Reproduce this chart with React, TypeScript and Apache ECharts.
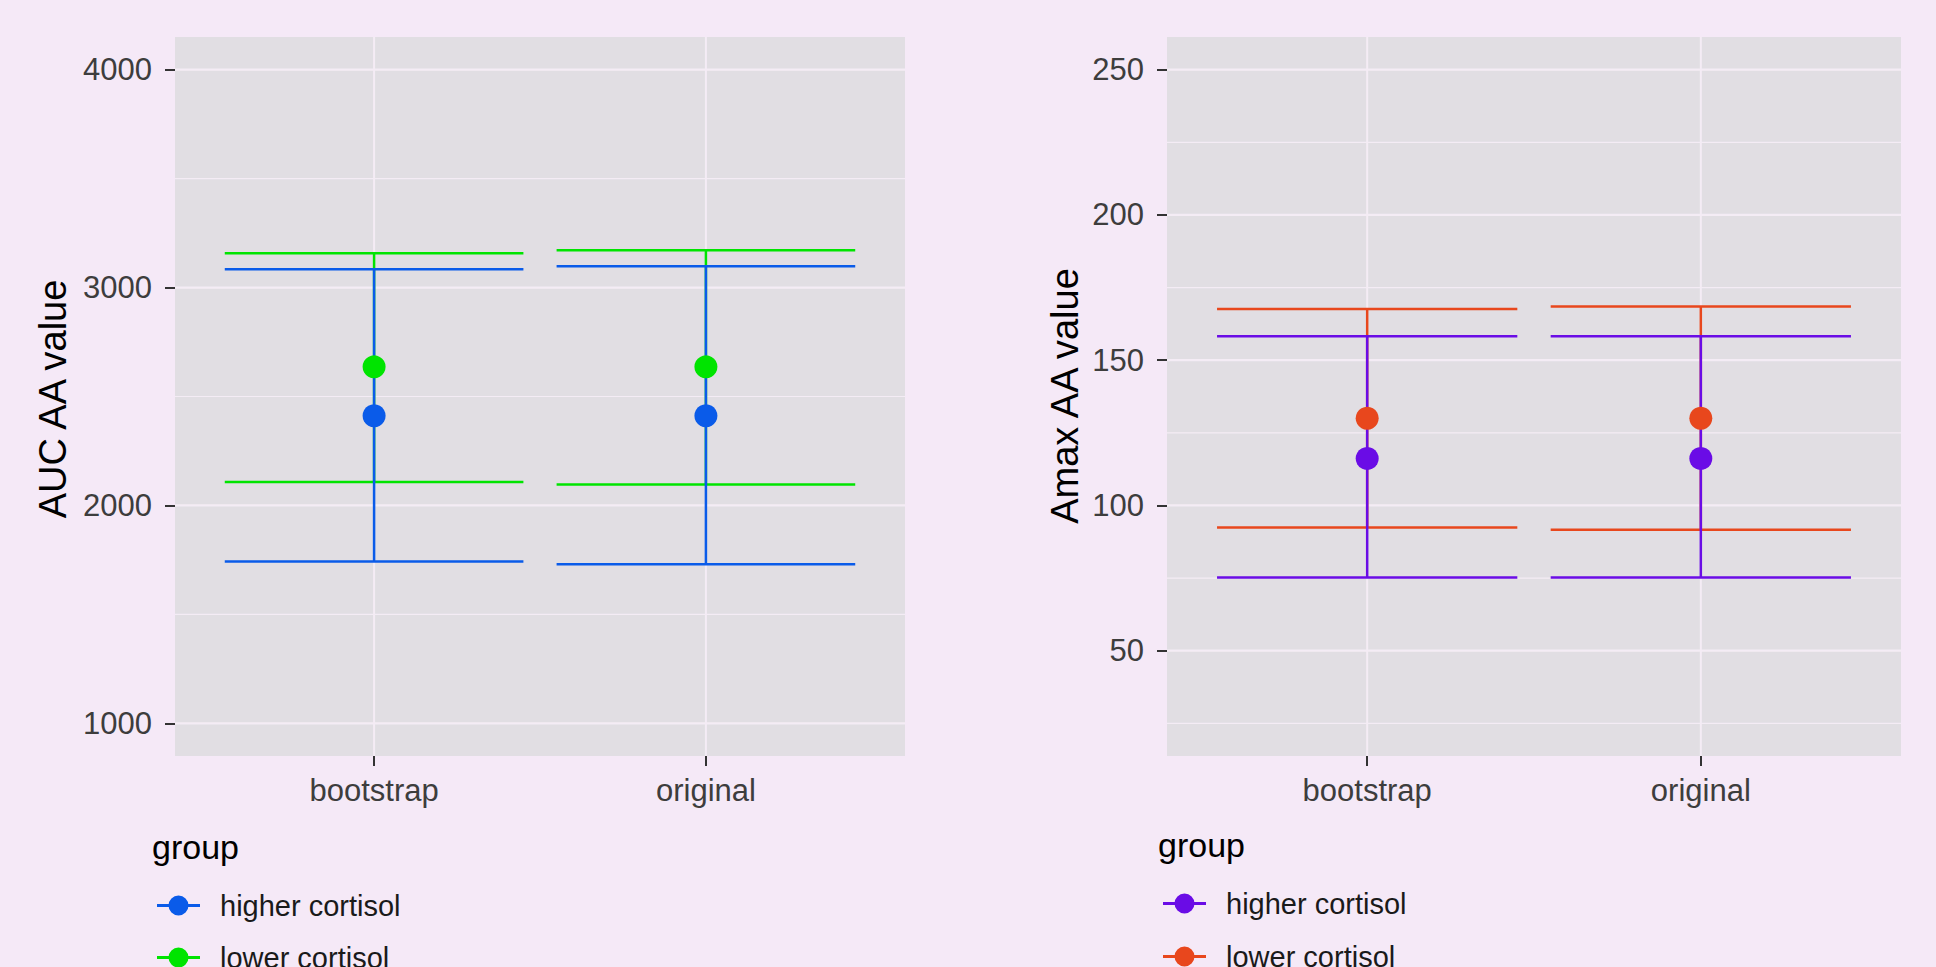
import React, { useEffect, useRef } from "react";
import * as echarts from "echarts";

// ---------- data ----------
const categories = ["bootstrap", "original"];
const groupNames = ["higher cortisol", "lower cortisol"];

// AUC AA value panel
const aucHigherMean = [2412, 2412];
const aucHigherLow = [1743, 1730];
const aucHigherHigh = [3084, 3098];
const aucLowerMean = [2636, 2636];
const aucLowerLow = [2108, 2096];
const aucLowerHigh = [3157, 3171];

// Amax AA value panel
const amaxHigherMean = [116.2, 116.2];
const amaxHigherLow = [75.2, 75.2];
const amaxHigherHigh = [158.2, 158.2];
const amaxLowerMean = [130.0, 130.0];
const amaxLowerLow = [92.4, 91.6];
const amaxLowerHigh = [167.6, 168.5];

const aucTicks = [1000, 2000, 3000, 4000];
const aucMinorTicks = [1500, 2500, 3500];
const amaxTicks = [50, 100, 150, 200, 250];
const amaxMinorTicks = [25, 75, 125, 175, 225];
const categoryPositions = [1, 2];

// ---------- styling ----------
const FONT = '"Liberation Sans", Arial, Helvetica, sans-serif';
const BG = "#F5E9F7";
const PANEL = "#E1DEE3";
const GRIDLINE = "#F4ECF5";
const BLUE = "#0A5BE9";
const GREEN = "#00E400";
const PURPLE = "#6A0CE6";
const ORANGE = "#E8471D";
const CAP_HALF = 0.45;

// line segments left and right of a dot (non-overlapping so nothing cancels out)
const LEGEND_ICON =
  "path://M0,8.6h12v2.8h-12z M31,8.6h12v2.8h-12z M11.5,10a10,10 0 1,1 20,0a10,10 0 1,1 -20,0z";

function errorbarRender(params: any, api: any) {
  const x = api.value(0);
  const lo = api.value(1);
  const hi = api.value(2);
  const pLo = api.coord([x, lo]);
  const pHi = api.coord([x, hi]);
  const l = api.coord([x - CAP_HALF, lo])[0];
  const r = api.coord([x + CAP_HALF, lo])[0];
  const style = { stroke: api.visual("color"), lineWidth: 2.5, fill: null };
  return {
    type: "group",
    children: [
      { type: "line", shape: { x1: pLo[0], y1: pLo[1], x2: pHi[0], y2: pHi[1] }, style },
      { type: "line", shape: { x1: l, y1: pHi[1], x2: r, y2: pHi[1] }, style },
      { type: "line", shape: { x1: l, y1: pLo[1], x2: r, y2: pLo[1] }, style },
    ],
  };
}

function hGridRender(width: number) {
  return (params: any, api: any) => {
    const cs = params.coordSys;
    const y = api.coord([1, api.value(1)])[1];
    return {
      type: "line",
      shape: { x1: cs.x, y1: y, x2: cs.x + cs.width, y2: y },
      style: { stroke: GRIDLINE, lineWidth: width },
      silent: true,
    };
  };
}

function vGridRender(params: any, api: any) {
  const cs = params.coordSys;
  const x = api.coord([api.value(0), api.value(1)])[0];
  return {
    type: "line",
    shape: { x1: x, y1: cs.y, x2: x, y2: cs.y + cs.height },
    style: { stroke: GRIDLINE, lineWidth: 2 },
    silent: true,
  };
}

function panelSeries(
  gi: number,
  ticks: number[],
  minor: number[],
  yMin: number,
  hiMean: number[],
  hiLow: number[],
  hiHigh: number[],
  loMean: number[],
  loLow: number[],
  loHigh: number[],
  hiColor: string,
  loColor: string
) {
  const common = { xAxisIndex: gi, yAxisIndex: gi };
  return [
    {
      ...common,
      type: "custom",
      name: "minor-grid-" + gi,
      z: 1,
      silent: true,
      renderItem: hGridRender(1.2),
      data: minor.map((v) => [1, v]),
      encode: { x: 0, y: 1 },
    },
    {
      ...common,
      type: "custom",
      name: "major-grid-" + gi,
      z: 1,
      silent: true,
      renderItem: hGridRender(2.2),
      data: ticks.map((v) => [1, v]),
      encode: { x: 0, y: 1 },
    },
    {
      ...common,
      type: "custom",
      name: "x-grid-" + gi,
      z: 1,
      silent: true,
      renderItem: vGridRender,
      data: categoryPositions.map((c) => [c, yMin]),
      encode: { x: 0, y: 1 },
    },
    {
      ...common,
      type: "custom",
      name: "eb-lower-" + gi,
      z: 2,
      itemStyle: { color: loColor },
      renderItem: errorbarRender,
      data: categoryPositions.map((c, i) => [c, loLow[i], loHigh[i]]),
      encode: { x: 0, y: [1, 2] },
    },
    {
      ...common,
      type: "custom",
      name: "eb-higher-" + gi,
      z: 3,
      itemStyle: { color: hiColor },
      renderItem: errorbarRender,
      data: categoryPositions.map((c, i) => [c, hiLow[i], hiHigh[i]]),
      encode: { x: 0, y: [1, 2] },
    },
    {
      ...common,
      type: "scatter",
      name: groupNames[1],
      z: 4,
      symbol: "circle",
      symbolSize: 23,
      itemStyle: { color: loColor, opacity: 1 },
      data: categoryPositions.map((c, i) => [c, loMean[i]]),
    },
    {
      ...common,
      type: "scatter",
      name: groupNames[0],
      z: 5,
      symbol: "circle",
      symbolSize: 23,
      itemStyle: { color: hiColor, opacity: 1 },
      data: categoryPositions.map((c, i) => [c, hiMean[i]]),
    },
  ];
}

function xAxisFor(gi: number) {
  return {
    type: "value",
    gridIndex: gi,
    min: 0.4,
    max: 2.6,
    splitLine: { show: false },
    minorSplitLine: { show: false },
    axisLine: { show: false },
    axisTick: {
      show: true,
      customValues: categoryPositions,
      length: 10,
      lineStyle: { color: "#333333", width: 2 },
    },
    axisLabel: {
      customValues: categoryPositions,
      formatter: (v: number) => categories[Math.round(v) - 1] ?? "",
      fontSize: 31,
      fontFamily: FONT,
      color: "#3d3d3d",
      margin: 19,
    },
  };
}

function yAxisFor(gi: number, min: number, max: number, ticks: number[]) {
  return {
    type: "value",
    gridIndex: gi,
    min,
    max,
    splitLine: { show: false },
    axisLine: { show: false },
    axisTick: {
      show: true,
      customValues: ticks,
      length: 10,
      lineStyle: { color: "#333333", width: 2 },
    },
    axisLabel: {
      customValues: ticks,
      formatter: (v: number) => String(v),
      fontSize: 31,
      fontFamily: FONT,
      color: "#3d3d3d",
      margin: 23,
    },
  };
}

function legendItem(left: number, top: number, name: string, color: string) {
  return {
    orient: "vertical",
    left,
    top,
    itemWidth: 43,
    itemHeight: 20,
    icon: LEGEND_ICON,
    selectedMode: false,
    padding: 0,
    textStyle: {
      fontSize: 29,
      fontFamily: FONT,
      color: "#1a1a1a",
      lineHeight: 20,
      padding: [0, 0, 0, 15],
    },
    data: [{ name, itemStyle: { color } }],
  };
}

function axisTitle(x: number, y: number, text: string) {
  return {
    type: "text",
    x,
    y,
    rotation: Math.PI / 2,
    style: {
      text,
      fontSize: 38,
      fontFamily: FONT,
      fill: "#000000",
      align: "center",
      verticalAlign: "middle",
    },
  };
}

function legendTitle(x: number, y: number) {
  return {
    type: "text",
    x,
    y,
    style: {
      text: "group",
      fontSize: 34,
      fontFamily: FONT,
      fill: "#000000",
      align: "left",
      verticalAlign: "middle",
    },
  };
}

export default function App() {
  const ref = useRef<HTMLDivElement>(null);

  useEffect(() => {
    if (!ref.current) return;
    const chart = echarts.init(ref.current, null, { renderer: "svg" });
    const option: any = {
      animation: false,
      backgroundColor: BG,
      textStyle: { fontFamily: FONT },
      grid: [
        {
          left: 175,
          top: 37,
          width: 730,
          height: 719,
          show: true,
          backgroundColor: PANEL,
          borderWidth: 0,
        },
        {
          left: 1167,
          top: 37,
          width: 734,
          height: 719,
          show: true,
          backgroundColor: PANEL,
          borderWidth: 0,
        },
      ],
      xAxis: [xAxisFor(0), xAxisFor(1)],
      yAxis: [
        yAxisFor(0, 850, 4150, aucTicks),
        yAxisFor(1, 13.75, 261.25, amaxTicks),
      ],
      legend: [
        legendItem(157, 891, groupNames[0], BLUE),
        legendItem(157, 943, groupNames[1], GREEN),
        legendItem(1163, 889, groupNames[0], PURPLE),
        legendItem(1163, 942, groupNames[1], ORANGE),
      ],
      graphic: [
        axisTitle(53, 399, "AUC AA value"),
        axisTitle(1065, 396, "Amax AA value"),
        legendTitle(152, 847),
        legendTitle(1158, 845),
      ],
      series: [
        ...panelSeries(
          0,
          aucTicks,
          aucMinorTicks,
          850,
          aucHigherMean,
          aucHigherLow,
          aucHigherHigh,
          aucLowerMean,
          aucLowerLow,
          aucLowerHigh,
          BLUE,
          GREEN
        ),
        ...panelSeries(
          1,
          amaxTicks,
          amaxMinorTicks,
          13.75,
          amaxHigherMean,
          amaxHigherLow,
          amaxHigherHigh,
          amaxLowerMean,
          amaxLowerLow,
          amaxLowerHigh,
          PURPLE,
          ORANGE
        ),
      ],
    };
    chart.setOption(option);
    return () => chart.dispose();
  }, []);

  return (
    <div
      ref={ref}
      style={{ position: "absolute", left: 0, top: 0, width: 1936, height: 967 }}
    />
  );
}
